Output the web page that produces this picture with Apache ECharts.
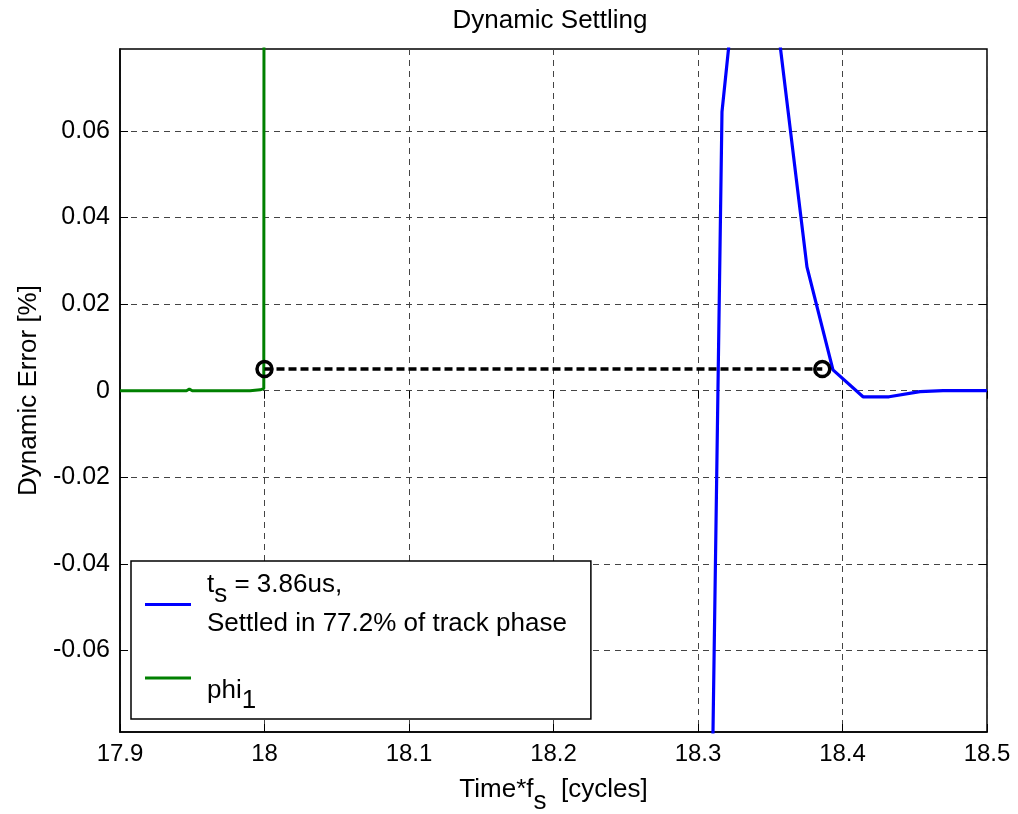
<!DOCTYPE html>
<html>
<head>
<meta charset="utf-8">
<script src="https://cdn.jsdelivr.net/npm/echarts@6/dist/echarts.min.js"></script>
<style>
  html, body { margin: 0; padding: 0; background: #fff; }
  #chart { width: 1018px; height: 814px; }
</style>
</head>
<body>
<div id="chart"></div>
<script>
// blue trace: dynamic error vs time*fs
const blueX = [18.2975, 18.3166, 18.337, 18.356, 18.3754, 18.3934, 18.4142, 18.4322, 18.4536, 18.4696, 18.5];
const blueY = [-0.375, 0.0644, 0.13, 0.082, 0.0286, 0.0048, -0.0014, -0.0014, -0.0002, 0, 0];
// green trace phi_1
const greenX = [17.9, 17.946, 17.948, 17.95, 17.99, 17.997, 17.9995, 18.0];
const greenY = [0, 0, 0.0004, 0, 0, 0.0002, 0.0005, 0.3];
// settling marker (start / end)
const settleX = [18.0, 18.386];
const settleY = [0.005, 0.005];
const yTicks = [-0.06, -0.04, -0.02, 0, 0.02, 0.04, 0.06];

const FONT = "Liberation Sans, Arial, sans-serif";
const zip = (xs, ys) => xs.map((x, i) => [x, ys[i]]);

const chart = echarts.init(document.getElementById("chart"));

const gridDash = { color: "#444", type: [6, 5], width: 1 };

chart.setOption({
  animation: false,
  backgroundColor: "#fff",
  textStyle: { fontFamily: FONT },
  title: {
    text: "Dynamic Settling",
    left: 545,
    textAlign: "center",
    top: 3,
    textStyle: { fontFamily: FONT, fontSize: 26, fontWeight: "normal", color: "#000" },
  },
  grid: {
    left: 120, right: 31, top: 49, bottom: 82,
    outerBoundsMode: "none",
    containLabel: false,
    show: true, borderColor: "#000", borderWidth: 1.5,
  },
  legend: {
    data: [
      { name: "blue" },
      { name: "green", textStyle: { padding: [26, 0, 0, 11] } },
    ],
    orient: "vertical",
    left: 131,
    top: 561,
    padding: [1, 24, 5, 14],
    itemGap: 31,
    itemWidth: 46,
    itemHeight: 3,
    icon: "rect",
    backgroundColor: "#fff",
    borderColor: "#000",
    borderWidth: 1.5,
    borderRadius: 0,
    formatter: (name) =>
      name === "blue"
        ? "{a|t}{s|s}{a| = 3.86us,}\n{a|Settled in 77.2% of track phase}"
        : "{a|phi}{s|1}",
    textStyle: {
      color: "#000",
      padding: [0, 0, 0, 11],
      rich: {
        a: { fontFamily: FONT, fontSize: 26, color: "#000", lineHeight: 39 },
        s: { fontFamily: FONT, fontSize: 26, color: "#000", lineHeight: 39, padding: [20, 0, 0, 0] },
      },
    },
  },
  xAxis: [
    {
      type: "value",
      min: 17.9, max: 18.5, interval: 0.1,
      name: "{a|Time*f}{s|s}{a|  [cycles]}",
      nameLocation: "middle",
      nameGap: 33,
      nameTextStyle: {
        rich: {
          a: { fontFamily: FONT, fontSize: 26, color: "#000" },
          s: { fontFamily: FONT, fontSize: 26, color: "#000", padding: [24, 0, 0, 0] },
        },
      },
      axisLine: { show: true, onZero: false, lineStyle: { color: "#000", width: 1.5 } },
      axisTick: { show: true, inside: true, length: 8, lineStyle: { color: "#000" } },
      axisLabel: {
        color: "#000", fontFamily: FONT, fontSize: 24, margin: 10,
        formatter: (v) => String(+v.toFixed(1)),
      },
      splitLine: { show: true, lineStyle: gridDash },
    },
    {
      type: "value", position: "top",
      min: 17.9, max: 18.5, interval: 0.1,
      axisLine: { show: false },
      axisTick: { show: true, inside: true, length: 8, lineStyle: { color: "#000" } },
      axisLabel: { show: false },
      splitLine: { show: false },
    },
  ],
  yAxis: [
    {
      type: "value",
      min: -0.0788, max: 0.0789,
      name: "Dynamic Error [%]",
      nameLocation: "middle",
      nameGap: 78,
      nameTextStyle: { fontFamily: FONT, fontSize: 26, color: "#000" },
      axisLine: { show: true, onZero: false, lineStyle: { color: "#000", width: 1.5 } },
      axisTick: { show: true, inside: true, length: 8, customValues: yTicks, lineStyle: { color: "#000" } },
      axisLabel: {
        color: "#000", fontFamily: FONT, fontSize: 25, margin: 10,
        customValues: yTicks,
        formatter: (v) => (Math.abs(v) < 1e-9 ? "0" : String(+v.toFixed(2))),
      },
      splitLine: { show: true, lineStyle: gridDash },
    },
    {
      type: "value", position: "right",
      min: -0.0788, max: 0.0789,
      axisLine: { show: false },
      axisTick: { show: true, inside: true, length: 8, customValues: yTicks, lineStyle: { color: "#000" } },
      axisLabel: { show: false, customValues: yTicks },
      splitLine: { show: false },
    },
  ],
  series: [
    {
      name: "green",
      type: "line",
      data: zip(greenX, greenY),
      showSymbol: false,
      clip: true,
      color: "#008000",
      lineStyle: { color: "#008000", width: 3 },
    },
    {
      name: "blue",
      type: "line",
      data: zip(blueX, blueY),
      showSymbol: false,
      clip: true,
      color: "#0000ff",
      lineStyle: { color: "#0000ff", width: 3.2 },
    },
    {
      name: "settle",
      type: "line",
      data: zip(settleX, settleY),
      symbol: "circle",
      symbolSize: 15,
      showSymbol: true,
      clip: false,
      lineStyle: { color: "#000", width: 3.6, type: [8, 4] },
      itemStyle: { color: "rgba(0,0,0,0)", borderColor: "#000", borderWidth: 3.5 },
      z: 5,
    },
  ],
});
</script>
</body>
</html>
